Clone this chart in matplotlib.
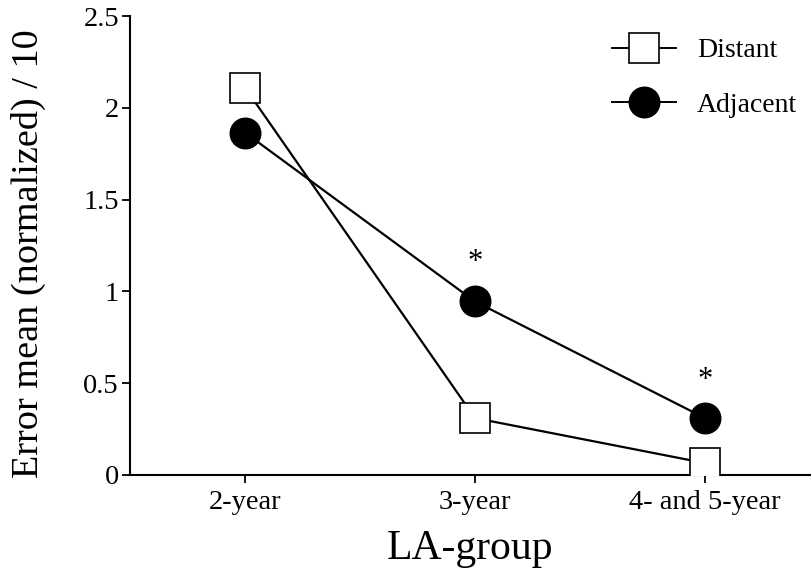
import matplotlib
matplotlib.use("Agg")
import matplotlib.pyplot as plt
from matplotlib.lines import Line2D

plt.rcParams['font.family'] = ['Liberation Serif', 'DejaVu Serif']

groups = ["2-year", "3-year", "4- and 5-year"]
distant = [2.11, 0.31, 0.065]
adjacent = [1.865, 0.945, 0.31]
star_y = [None, 1.155, 0.515]
y_ticks = [0, 0.5, 1, 1.5, 2, 2.5]
y_tick_labels = ["0", "0.5", "1", "1.5", "2", "2.5"]

W, H = 812, 574
fig = plt.figure(figsize=(W / 100, H / 100), dpi=100)
ax = fig.add_axes([130 / W, (H - 475) / H, 1 - 130 / W, (475 - 16) / H])

x = list(range(len(groups)))
ax.plot(x, adjacent, color='black', linewidth=1.6, marker='o', markersize=22,
        markerfacecolor='black', markeredgecolor='black', zorder=3)
ax.plot(x, distant, color='black', linewidth=1.6, marker='s', markersize=21,
        markerfacecolor='white', markeredgecolor='black', markeredgewidth=1.2, zorder=4)

for xi, sy in zip(x, star_y):
    if sy is not None:
        ax.text(xi, sy, "*", ha='center', va='center', fontsize=22)

# one category step = 230 px, axes is 682 px wide
ax.set_xlim(-0.5, -0.5 + (W - 130) / 230)
ax.set_ylim(0, 2.5)
ax.set_xticks(x)
ax.set_xticklabels(groups, fontsize=20.5)
ax.set_yticks(y_ticks)
ax.set_yticklabels(y_tick_labels, fontsize=20.5)
ax.tick_params(direction='out', length=6, width=1.3, pad=2)
ax.tick_params(axis='x', pad=5)
for side in ['top', 'right']:
    ax.spines[side].set_visible(False)
for side in ['left', 'bottom']:
    ax.spines[side].set_linewidth(1.5)

ax.set_xlabel("LA-group", fontsize=30)
ax.set_ylabel("Error mean (normalized) / 10", fontsize=27.5)
ax.xaxis.set_label_coords(470 / W, (H - 530) / H, transform=fig.transFigure)
ax.yaxis.set_label_coords(46 / W, (H - 254) / H, transform=fig.transFigure)

handles = [
    Line2D([], [], color='black', linewidth=1.4, marker='s', markersize=21,
           markerfacecolor='white', markeredgecolor='black', markeredgewidth=1.2),
    Line2D([], [], color='black', linewidth=1.4, marker='o', markersize=22,
           markerfacecolor='black', markeredgecolor='black'),
]
fig.legend(handles, ["Distant", "Adjacent"], loc='upper left', frameon=False,
           fontsize=20, handlelength=2.3, handletextpad=0.75, labelspacing=1.05,
           borderpad=0, borderaxespad=0,
           bbox_to_anchor=(612 / W, (H - 38) / H))

fig.savefig("out.png", dpi=100)
